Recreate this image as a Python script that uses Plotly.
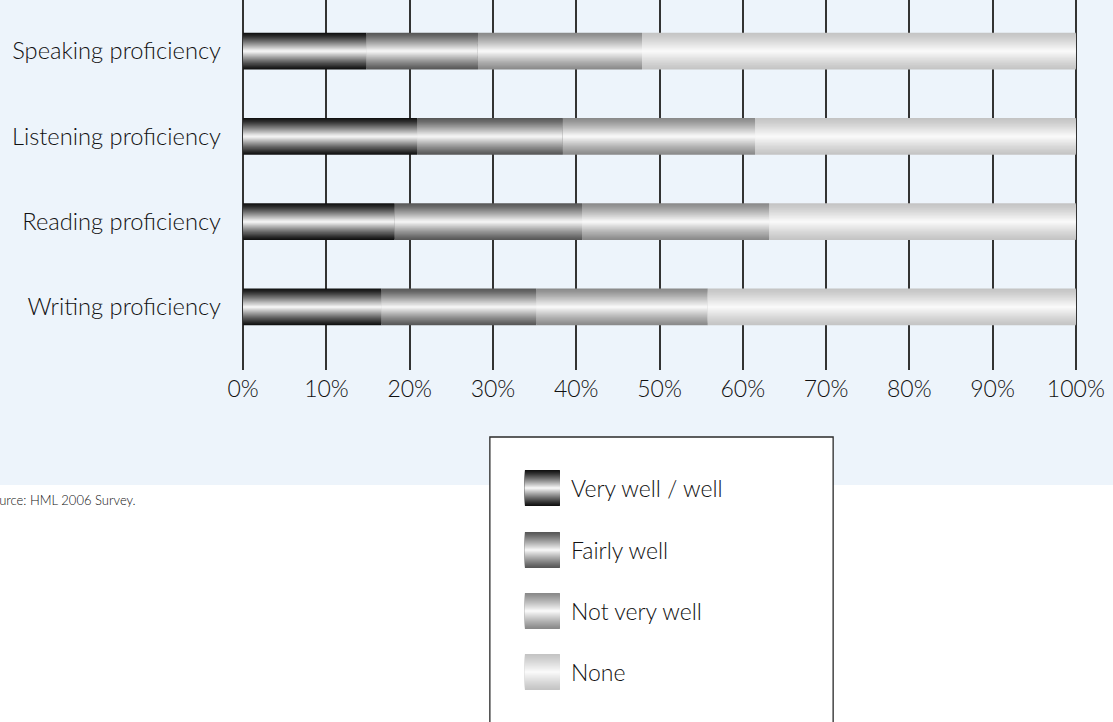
import plotly.graph_objects as go

# Survey results: share of respondents per proficiency level (percent)
categories = ["Speaking proficiency", "Listening proficiency",
              "Reading proficiency", "Writing proficiency"]
series_names = ["Very well / well", "Fairly well", "Not very well", "None"]
very_well = [14.8, 20.9, 18.2, 16.6]
fairly_well = [13.4, 17.5, 22.5, 18.6]
not_very_well = [19.7, 23.1, 22.5, 20.6]
none_level = [52.1, 38.5, 36.8, 44.2]
x_tick_values = [0, 10, 20, 30, 40, 50, 60, 70, 80, 90, 100]
x_tick_labels = [f"{v}%" for v in x_tick_values]
source_note = "Source: HML 2006 Survey."

series_values = [very_well, fairly_well, not_very_well, none_level]

# (edge colour, centre highlight colour) for the cylindrical shading
shading = [
    ((18, 18, 18), (242, 242, 242)),
    ((88, 88, 88), (243, 243, 243)),
    ((138, 138, 138), (247, 247, 247)),
    ((196, 196, 196), (249, 249, 249)),
]

FONT = "Lato, 'Liberation Sans', sans-serif"
WEIGHT = 300
TEXT_COLOR = "#111111"
BG_BLUE = "#EDF4FB"
LABEL_SIZE = 23
CATEGORY_SIZE = 23.7

W, H = 1113, 722
X0_PX, X100_PX = 243.5, 1075.5          # pixel positions of 0% and 100%
X_PAD = 0.5                              # small range padding so edge gridlines are drawn
UNIT = (X100_PX - X0_PX) / 100
L = X0_PX - X_PAD * UNIT
PW = UNIT * (100 + 2 * X_PAD)
R = W - L - PW
T, B = 0, 352
PH = H - T - B

BAR_W = 0.43
LAYERS = 18


def shade(edge, centre, t):
    f = t ** 1.15
    rgb = [round(e + (c - e) * f) for e, c in zip(edge, centre)]
    return "rgb({},{},{})".format(*rgb)


def px2x(px):
    return (px - L) / PW


def py2y(py):
    return 1 - (py - T) / PH


def text_font(size):
    return dict(family=FONT, size=size, color=TEXT_COLOR, weight=WEIGHT)


fig = go.Figure()

# Stacked bars, each segment built from nested bars for a rounded shading
cumulative = [0.0] * len(categories)
for name, values, (edge, centre) in zip(series_names, series_values, shading):
    for k in range(LAYERS):
        t = k / (LAYERS - 1)
        fig.add_trace(go.Bar(
            y=categories,
            x=values,
            base=cumulative,
            orientation="h",
            width=BAR_W * (1 - k / LAYERS),
            marker=dict(color=shade(edge, centre, t), line=dict(width=0)),
            name=name,
            showlegend=False,
            hoverinfo="skip" if k else "x+y+name",
        ))
    cumulative = [c + v for c, v in zip(cumulative, values)]

shapes = []
annotations = []

# Pale blue panel behind the chart
shapes.append(dict(type="rect", xref="paper", yref="paper", layer="below",
                   x0=px2x(0), x1=px2x(W), y0=py2y(485), y1=py2y(0),
                   fillcolor=BG_BLUE, line=dict(width=0)))

# Legend box
shapes.append(dict(type="rect", xref="paper", yref="paper", layer="above",
                   x0=px2x(490), x1=px2x(833), y0=py2y(740), y1=py2y(437),
                   fillcolor="white", line=dict(color="#2a2a2a", width=1.3)))

sw_left, sw_right, sw_h = 525, 560, 36
item_centres = [488, 550, 611, 672]
for name, (edge, centre), cy in zip(series_names, shading, item_centres):
    for k in range(LAYERS):
        t = k / (LAYERS - 1)
        half = sw_h / 2 * (1 - k / LAYERS)
        shapes.append(dict(type="rect", xref="paper", yref="paper", layer="above",
                           x0=px2x(sw_left), x1=px2x(sw_right),
                           y0=py2y(cy + half), y1=py2y(cy - half),
                           fillcolor=shade(edge, centre, t), line=dict(width=0)))
    annotations.append(dict(xref="paper", yref="paper", x=px2x(569), y=py2y(cy),
                            xanchor="left", yanchor="middle", showarrow=False,
                            text=name, font=text_font(LABEL_SIZE)))

annotations.append(dict(xref="paper", yref="paper", x=px2x(-16), y=py2y(500),
                        xanchor="left", yanchor="middle", showarrow=False,
                        text=source_note, font=text_font(13)))

fig.update_layout(
    width=W, height=H,
    margin=dict(l=L, r=R, t=T, b=B, pad=0, autoexpand=False),
    barmode="overlay",
    paper_bgcolor="white",
    plot_bgcolor="rgba(0,0,0,0)",
    showlegend=False,
    font=text_font(LABEL_SIZE),
    shapes=shapes,
    annotations=annotations,
    xaxis=dict(
        range=[-X_PAD, 100 + X_PAD],
        tickvals=x_tick_values,
        ticktext=x_tick_labels,
        showgrid=True,
        gridcolor="#333333",
        gridwidth=1.6,
        zeroline=False,
        showline=False,
        ticks="",
        ticklabelstandoff=3,
        automargin=False,
        tickfont=text_font(LABEL_SIZE),
        fixedrange=True,
    ),
    yaxis=dict(
        type="category",
        categoryorder="array",
        categoryarray=categories[::-1],
        range=[-0.74, 3.60],
        showgrid=False,
        zeroline=False,
        showline=False,
        ticks="",
        ticklabelstandoff=17,
        automargin=False,
        tickfont=text_font(CATEGORY_SIZE),
        fixedrange=True,
    ),
)

fig.write_html("out.html")
